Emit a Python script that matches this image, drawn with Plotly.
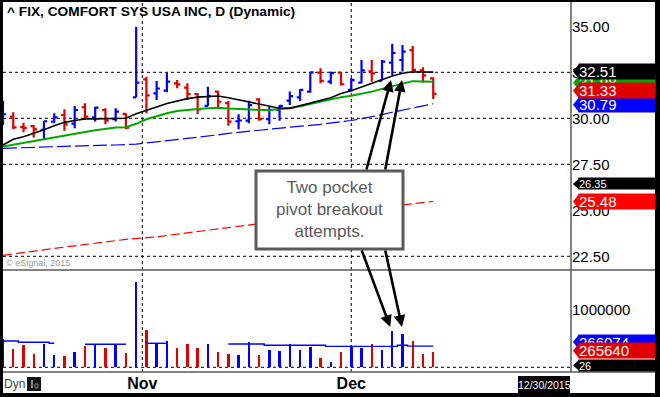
import plotly.graph_objects as go

# ---------------- data ----------------
dates = ["2015-10-13", "2015-10-14", "2015-10-15", "2015-10-16", "2015-10-19", "2015-10-20",
         "2015-10-21", "2015-10-22", "2015-10-23", "2015-10-26", "2015-10-27", "2015-10-28",
         "2015-10-29", "2015-10-30",
         "2015-11-02", "2015-11-03", "2015-11-04", "2015-11-05", "2015-11-06", "2015-11-09",
         "2015-11-10", "2015-11-11", "2015-11-12", "2015-11-13", "2015-11-16", "2015-11-17",
         "2015-11-18", "2015-11-19", "2015-11-20", "2015-11-23", "2015-11-24", "2015-11-25",
         "2015-11-27", "2015-11-30",
         "2015-12-01", "2015-12-02", "2015-12-03", "2015-12-04", "2015-12-07", "2015-12-08",
         "2015-12-09", "2015-12-10", "2015-12-11"]

open_ = [29.90, 30.09, 29.52, 29.58, 29.37, 29.82, 30.18, 29.71, 30.60, 30.05, 30.45, 29.95, 30.24,
         31.14, 32.12, 31.35, 31.50, 31.90, 31.67, 31.32, 30.67, 31.45, 30.82, 29.84, 29.87, 31.03,
         29.95, 30.45, 30.96, 31.14, 31.45, 32.48, 31.99, 32.48, 31.54, 31.94, 32.55, 32.04, 33.03,
         33.17, 33.70, 32.60, 32.17]
high = [30.96, 30.33, 29.76, 29.62, 29.86, 30.27, 30.49, 30.67, 30.82, 30.63, 30.54, 30.54, 30.27,
        34.98, 32.26, 32.03, 32.48, 32.08, 31.90, 31.36, 31.72, 31.50, 30.94, 30.22, 30.96, 31.09,
        30.67, 30.72, 31.45, 31.58, 32.50, 32.72, 32.54, 32.50, 32.19, 33.17, 33.17, 33.17, 34.05,
        33.99, 33.93, 32.78, 32.23]
low = [29.64, 29.40, 29.24, 28.95, 28.82, 29.73, 29.33, 29.46, 29.91, 29.82, 29.67, 29.82, 29.40,
       31.14, 30.27, 31.00, 31.41, 31.63, 31.00, 30.24, 30.67, 30.60, 29.60, 29.40, 29.73, 29.87,
       29.67, 29.87, 30.72, 30.94, 31.39, 31.90, 31.85, 31.78, 31.45, 31.90, 31.99, 32.06, 32.33,
       32.54, 32.54, 31.95, 31.05]
close = [30.22, 29.51, 29.48, 29.40, 29.84, 30.05, 29.67, 30.45, 30.09, 30.58, 29.87, 30.36, 29.49,
         31.94, 31.25, 31.62, 31.99, 31.84, 31.32, 30.49, 31.21, 30.90, 29.82, 29.88, 30.72, 29.95,
         30.45, 30.67, 31.21, 31.54, 32.50, 32.03, 32.45, 31.85, 32.08, 32.60, 32.44, 33.08, 33.55,
         33.62, 32.63, 32.33, 31.33]

ma_black = [28.55, 28.86, 29.00, 29.18, 29.38, 29.60, 29.78, 29.88, 29.96, 29.97, 29.98, 30.00, 30.00,
            30.25, 30.45, 30.62, 30.80, 30.94, 31.07, 31.15, 31.20, 31.21, 31.12, 31.00, 30.92, 30.80,
            30.67, 30.55, 30.54, 30.68, 30.85, 31.00, 31.12, 31.35, 31.50, 31.70, 31.90, 32.10, 32.30,
            32.45, 32.53, 32.52, 32.51]
ma_green = [28.46, 28.56, 28.68, 28.80, 28.90, 29.00, 29.08, 29.17, 29.26, 29.35, 29.42, 29.50, 29.51,
            29.70, 29.95, 30.13, 30.27, 30.40, 30.47, 30.50, 30.54, 30.58, 30.53, 30.49, 30.46, 30.45,
            30.45, 30.50, 30.56, 30.65, 30.78, 30.90, 31.02, 31.15, 31.22, 31.32, 31.45, 31.60, 31.75,
            31.90, 32.02, 32.00, 31.98]
ma_blue = [28.37, 28.39, 28.41, 28.42, 28.44, 28.45, 28.47, 28.48, 28.50, 28.52, 28.54, 28.55, 28.56,
           28.60, 28.66, 28.72, 28.78, 28.85, 28.91, 28.97, 29.03, 29.10, 29.18, 29.25, 29.30, 29.35,
           29.41, 29.47, 29.52, 29.57, 29.62, 29.67, 29.73, 29.80, 29.88, 29.98, 30.08, 30.20, 30.33,
           30.45, 30.58, 30.70, 30.79]
ma_red = [22.55, 22.63, 22.71, 22.80, 22.87, 22.93, 23.00, 23.07, 23.15, 23.22, 23.29, 23.35, 23.42,
          23.45, 23.48, 23.55, 23.63, 23.71, 23.78, 23.85, 23.92, 23.99, 24.06, 24.13, 24.19, 24.26,
          24.33, 24.40, 24.47, 24.54, 24.61, 24.68, 24.75, 24.82, 24.89, 24.96, 25.03, 25.10, 25.17,
          25.29, 25.34, 25.40, 25.48]

volume = [494000, 319000, 389000, 232000, 407000, 215000, 197000, 267000, 372000, 401000, 337000,
          401000, 250000, 1489000, 651000, 419000, 459000, 337000, 407000, 337000, 407000, 270000,
          232000, 215000, 442000, 215000, 302000, 285000, 407000, 302000, 355000, 162000, 93000,
          267000, 366000, 337000, 407000, 302000, 634000, 581000, 459000, 232000, 265640]
vol_ma = [459000, 459000, 436000, 436000, 436000, 419000, None, None, 401000, 401000, 401000, 401000,
          401000, None, 419000, 419000, 419000, None, None, None, None, None, 407000, 407000, 407000,
          407000, 384000, 384000, 384000, 384000, 384000, 384000, 366000, 366000, 366000, 366000,
          366000, 366000, 366000, 384000, 370000, 370000, 370000]

price_ticks = [22.5, 25.0, 27.5, 30.0, 32.5, 35.0]
price_grid = [22.5, 27.5, 30.0, 32.5]
vol_ticks = [1000000]
month_labels = ["Nov", "Dec"]
month_pos = [13.6, 34.0]
extra_price_value = 26.35
extra_vol_value = 26
vol_ma_last = 266074

title_text = "^ FIX, COMFORT SYS USA INC, D (Dynamic)"
note_text = "Two pocket<br>pivot breakout<br>attempts."

# ---------------- styling ----------------
BLUE = "#0000ff"
RED = "#e00000"
RED2 = "#ff0000"
GREEN = "#00a800"
BLACK = "#000000"
GREY = "#5a5a5a"
FONT = "Liberation Sans, Arial, sans-serif"

W, H = 660, 397
ML, MR, MT, MB = 3, 89, 2, 25
PW = W - ML - MR   # 568
PH = H - MT - MB   # 370
VOL_FRAC = 102 / PH


def px_x(px):
    return (px - ML) / PW


def px_y(py):
    return (H - MB - py) / PH


xi = list(range(len(dates)))
bar_colors = [BLUE if c > o else RED for o, c in zip(open_, close)]

fig = go.Figure()

fig.add_trace(go.Scatter(x=xi, y=ma_red, mode="lines", line=dict(color=RED2, width=1.2, dash="9px,4px"),
                         xaxis="x", yaxis="y", hoverinfo="skip", showlegend=False))
fig.add_trace(go.Scatter(x=xi, y=ma_blue, mode="lines", line=dict(color=BLUE, width=1.2, dash="14px,4px"),
                         xaxis="x", yaxis="y", hoverinfo="skip", showlegend=False))
fig.add_trace(go.Scatter(x=xi, y=ma_green, mode="lines", line=dict(color=GREEN, width=2),
                         xaxis="x", yaxis="y", hoverinfo="skip", showlegend=False))
fig.add_trace(go.Scatter(x=xi, y=ma_black, mode="lines", line=dict(color=BLACK, width=1.6),
                         xaxis="x", yaxis="y", hoverinfo="skip", showlegend=False))
fig.add_trace(go.Ohlc(x=xi, open=open_, high=high, low=low, close=close,
                      increasing=dict(line=dict(color=BLUE, width=2.2)),
                      decreasing=dict(line=dict(color=RED, width=2.2)),
                      tickwidth=0.32, xaxis="x", yaxis="y", hoverinfo="skip", showlegend=False))

fig.add_trace(go.Bar(x=xi, y=volume, marker=dict(color=bar_colors, line=dict(width=0)), width=0.24,
                     xaxis="x", yaxis="y2", hoverinfo="skip", showlegend=False))
fig.add_trace(go.Scatter(x=xi, y=vol_ma, mode="lines", line=dict(color=BLUE, width=1.4, shape="hvh"),
                         connectgaps=False, xaxis="x", yaxis="y2", hoverinfo="skip", showlegend=False))

shapes = []
annotations = []

# grid lines
for g in price_grid:
    shapes.append(dict(type="line", xref="paper", x0=0, x1=1, yref="y", y0=g, y1=g,
                       line=dict(color=BLACK, width=1, dash="3px,3px"), layer="below"))
shapes.append(dict(type="line", xref="paper", x0=0, x1=1, yref="y2", y0=0, y1=0,
                   line=dict(color=BLACK, width=1, dash="3px,3px"), layer="below"))
for mp in month_pos:
    shapes.append(dict(type="line", xref="x", x0=mp, x1=mp, yref="paper", y0=0, y1=1,
                       line=dict(color=BLACK, width=1, dash="3px,3px"), layer="below"))

# panel separators
for yy in [VOL_FRAC, 0]:
    shapes.append(dict(type="line", xref="paper", x0=0, x1=px_x(655), yref="paper", y0=yy, y1=yy,
                       line=dict(color=GREY, width=1.5), layer="above"))
shapes.append(dict(type="line", xref="paper", x0=1, x1=1, yref="paper", y0=0, y1=1,
                   line=dict(color=GREY, width=1.5), layer="above"))

# note box
shapes.append(dict(type="rect", xref="paper", yref="paper", x0=px_x(256), x1=px_x(403),
                   y0=px_y(249), y1=px_y(171), line=dict(color=GREY, width=3), fillcolor="white",
                   layer="above"))
annotations.append(dict(text=note_text, xref="paper", yref="paper", x=px_x(329.5), y=px_y(209),
                        showarrow=False, align="center", font=dict(family=FONT, size=17, color=GREY)))

# arrows (tip in data coords, tail in pixel offsets)
for tx, ty, yr, ax, ay in [(37.88, 32.08, "y", -25, 91), (38.95, 32.08, "y", -17, 91),
                           (37.8, 703000, "y2", -29, -78), (38.95, 703000, "y2", -17, -78)]:
    annotations.append(dict(text="", x=tx, y=ty, xref="x", yref=yr, ax=ax, ay=ay, showarrow=True,
                            arrowhead=2, arrowsize=0.9, arrowwidth=2.6, arrowcolor=BLACK))


def value_label(val, txt, color, yref, yshift, h=15, fs=15):
    shapes.append(dict(type="path", xref="paper", xsizemode="pixel", xanchor=1.0,
                       yref=yref, ysizemode="pixel", yanchor=val,
                       path=f"M 2,{yshift} L 8,{yshift + h / 2} L 8,{yshift - h / 2} Z",
                       fillcolor=color, line=dict(width=0), layer="above"))
    annotations.append(dict(text=txt, xref="paper", x=px_x(578), xanchor="left", yref=yref, y=val,
                            yshift=yshift, showarrow=False, bgcolor=color, width=76, height=h,
                            align="left", borderpad=0, font=dict(family=FONT, size=fs, color="white")))


value_label(ma_green[-1], f"{ma_green[-1]:.2f}", GREEN, "y", -1)
value_label(ma_blue[-1], f"{ma_blue[-1]:.2f}", BLUE, "y", -1)
value_label(close[-1], f"{close[-1]:.2f}", RED, "y", 3)
value_label(ma_black[-1], f"{ma_black[-1]:.2f}", BLACK, "y", 0.5)
value_label(extra_price_value, f"{extra_price_value:.2f}", BLACK, "y", 1.5, h=11, fs=11)
value_label(ma_red[-1], f"{ma_red[-1]:.2f}", RED2, "y", 0)
value_label(vol_ma_last, f"{vol_ma_last}", BLUE, "y2", 10)
value_label(volume[-1], f"{volume[-1]}", RED, "y2", 1.4)
value_label(extra_vol_value, f"{extra_vol_value}", BLACK, "y2", 2, h=11, fs=11)

# texts
annotations.append(dict(text=title_text, xref="paper", yref="paper", x=px_x(5), y=px_y(12),
                        xanchor="left", yanchor="middle", showarrow=False,
                        font=dict(family=FONT, size=13.7, color=BLACK, weight="bold")))
annotations.append(dict(text="© eSignal, 2015", xref="paper", yref="paper", x=px_x(4), y=px_y(263),
                        xanchor="left", yanchor="middle", showarrow=False,
                        font=dict(family=FONT, size=9, color="#999999")))
annotations.append(dict(text="Dyn", xref="paper", yref="paper", x=px_x(2), y=px_y(384),
                        xanchor="left", yanchor="middle", showarrow=False,
                        font=dict(family=FONT, size=12, color="#444444")))
shapes.append(dict(type="rect", xref="paper", yref="paper", x0=px_x(27), x1=px_x(41),
                   y0=px_y(391), y1=px_y(377), fillcolor="#111111", line=dict(width=0), layer="above"))
shapes.append(dict(type="rect", xref="paper", yref="paper", x0=px_x(31), x1=px_x(33),
                   y0=px_y(388), y1=px_y(380), fillcolor="#888888", line=dict(width=0), layer="above"))
shapes.append(dict(type="rect", xref="paper", yref="paper", x0=px_x(35), x1=px_x(38),
                   y0=px_y(388), y1=px_y(384), line=dict(color="#888888", width=1), layer="above"))
shapes.append(dict(type="rect", xref="paper", yref="paper", x0=px_x(518), x1=px_x(570),
                   y0=px_y(393), y1=px_y(376), fillcolor=BLACK, line=dict(width=0), layer="above"))
annotations.append(dict(text="12/30/2015", xref="paper", yref="paper", x=px_x(544), y=px_y(384.5),
                        xanchor="center", yanchor="middle", showarrow=False,
                        font=dict(family=FONT, size=10.5, color="white")))

# outer black frame
for x0, x1, y0, y1 in [(0, 3, 0, 397), (0, 660, 0, 2), (655, 660, 0, 397), (0, 660, 393, 397)]:
    shapes.append(dict(type="rect", xref="paper", yref="paper", x0=px_x(x0), x1=px_x(x1),
                       y0=px_y(y1), y1=px_y(y0), fillcolor=BLACK, line=dict(width=0), layer="above"))

fig.update_layout(
    width=W, height=H, margin=dict(l=ML, r=MR, t=MT, b=MB, autoexpand=False),
    paper_bgcolor="white", plot_bgcolor="white",
    font=dict(family=FONT, color=BLACK),
    showlegend=False, bargap=0,
    xaxis=dict(range=[0, 55.45], anchor="y2", showgrid=False, zeroline=False, showline=False,
               tickvals=month_pos, ticktext=month_labels, ticks="", automargin=False,
               tickfont=dict(family=FONT, size=16, color=BLACK, weight="bold"),
               rangeslider=dict(visible=False)),
    yaxis=dict(domain=[VOL_FRAC, 1], range=[21.755, 36.321], side="right", anchor="x",
               showgrid=False, zeroline=False, showline=False, ticks="", automargin=False,
               tickvals=price_ticks, ticktext=[f"{t:.2f}" for t in price_ticks],
               tickfont=dict(family=FONT, size=15, color=BLACK)),
    yaxis2=dict(domain=[0, VOL_FRAC], range=[-82000, 1698000], side="right", anchor="x",
                showgrid=False, zeroline=False, showline=False, ticks="", automargin=False,
                tickvals=vol_ticks, ticktext=[str(v) for v in vol_ticks],
                tickfont=dict(family=FONT, size=15, color=BLACK)),
    shapes=shapes, annotations=annotations,
)

fig.write_html("out.html", config={"displayModeBar": False},
               post_script="document.body.style.margin='0';document.body.style.overflow='hidden';")
